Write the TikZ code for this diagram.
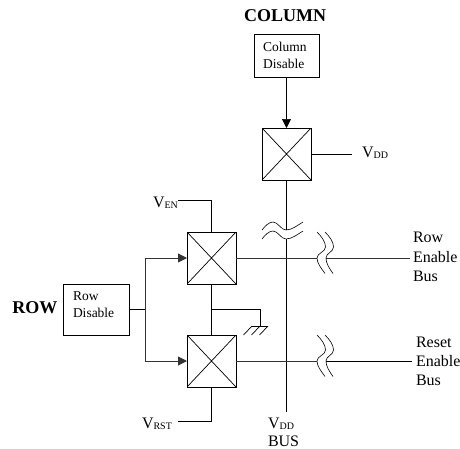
\documentclass[tikz,border=0pt]{standalone}
\usepackage{fontspec}
\setmainfont{Liberation Serif}
\usetikzlibrary{arrows.meta}
\newcommand{\vsub}[1]{V\raisebox{-1pt}{\fontsize{10}{10}\selectfont #1}}
\tikzset{
  wire/.style={line width=0.9pt,black!80},
  thin wire/.style={line width=0.7pt,black},
  arrowed/.style={-{Triangle[length=9pt,width=9pt]}},
  switchbox/.style={draw,line width=0.9pt,rectangle,inner sep=0pt,outer sep=0pt,minimum width=49pt,minimum height=52pt,
    path picture={\draw[line width=0.7pt] (path picture bounding box.north west)--(path picture bounding box.south east)
      (path picture bounding box.north east)--(path picture bounding box.south west);}},
  ctlbox/.style={draw,line width=0.8pt,rectangle,inner sep=0pt,outer sep=0pt},
  txt/.style={inner sep=0pt,outer sep=0pt,anchor=base west,font=\fontsize{16}{19.5}\selectfont},
  boxtxt/.style={inner sep=0pt,outer sep=0pt,anchor=base west,font=\fontsize{13.5}{17}\selectfont},
  head/.style={inner sep=0pt,outer sep=0pt,anchor=base,font=\fontsize{18}{20}\selectfont\bfseries},
  breakline/.style={line width=0.6pt,black},
}
\begin{document}
\begin{tikzpicture}[x=1pt,y=-1pt]
\useasboundingbox (0,0) rectangle (460,448);
% boxes
\node[ctlbox,minimum width=65pt,minimum height=43pt] (coldis) at (286.5,55.5) {};
\node[ctlbox,minimum width=66pt,minimum height=51pt] (rowdis) at (96,309.5) {};
\node[switchbox] (sTop) at (286.5,154) {};
\node[switchbox] (sEN) at (211.5,258) {};
\node[switchbox] (sRST) at (211.5,361) {};
% texts
\node[head] (tcol) at (285,21) {COLUMN};
\node[head] (trow) at (35,313) {ROW};
\node[boxtxt] (tcd1) at (263,51) {Column};
\node[boxtxt] (tcd2) at (263,68) {Disable};
\node[boxtxt] (trd1) at (73,300) {Row};
\node[boxtxt] (trd2) at (73,317) {Disable};
\node[txt] (vdd) at (362,157) {\vsub{DD}};
\node[txt] (ven) at (153,207) {\vsub{EN}};
\node[txt] (vrst) at (142,428) {\vsub{RST}};
\node[txt] (vddb) at (268,428) {\vsub{DD}};
\node[txt] (bus) at (268,446) {BUS};
\node[txt] (r1) at (413,242) {Row};
\node[txt] (r2) at (413,262) {Enable};
\node[txt] (r3) at (413,281) {Bus};
\node[txt] (s1) at (416,347) {Reset};
\node[txt] (s2) at (416,366) {Enable};
\node[txt] (s3) at (416,385) {Bus};
% coordinates
\coordinate (vddend) at (352,154);
\coordinate (venc) at (178,200.5);
\coordinate (vrstc) at (178,421);
\coordinate (jr) at (145.5,309.5);
\coordinate (gndj) at (211.5,309.5);
\coordinate (gndc) at (260.5,309.5);
\coordinate (gndb) at (260.5,326);
\coordinate (busa) at (286.5,230);
\coordinate (busb) at (286.5,239);
\coordinate (busend) at (286.5,412);
\coordinate (ra) at (317,258);
\coordinate (rb) at (326,258);
\coordinate (rend) at (410,258);
\coordinate (sa) at (317,361);
\coordinate (sb) at (326,361);
\coordinate (send) at (412,361);
% connectors
\draw[thin wire,arrowed] (coldis.south) -- (sTop.north);
\draw[thin wire] (sTop.east) -- (vddend);
\draw[thin wire] (sTop.south) -- (busa);
\draw[thin wire] (busb) -- (busend);
\draw[thin wire] (venc) -| (sEN.north);
\draw[thin wire] (vrstc) -| (sRST.south);
\draw[thin wire] (sEN.south) -- (sRST.north);
\draw[thin wire] (rowdis.east) -- (jr);
\draw[wire,arrowed] (jr) |- (sEN.west);
\draw[wire,arrowed] (jr) |- (sRST.west);
\draw[wire] (sEN.east) -- (ra);
\draw[wire] (rb) -- (rend);
\draw[wire] (sRST.east) -- (sa);
\draw[thin wire] (sb) -- (send);
\draw[thin wire] (gndj) -- (gndc) -- (gndb);
% ground
\draw[thin wire] (252,326) -- (268,326);
\draw[thin wire] (252,326) -- (243.5,335) (260,326) -- (251.5,335) (268,326) -- (259.5,335);
% break marks
\foreach \yc in {258,361}{
  \draw[breakline] (317,\yc-26) .. controls (322,\yc-21) and (325.5,\yc-16) .. (325.5,\yc-11) .. controls (325.5,\yc-6) and (317,\yc-5) .. (317,\yc) .. controls (317,\yc+5) and (321,\yc+10) .. (325,\yc+15.5);
  \draw[breakline] (325,\yc-26) .. controls (330,\yc-21) and (333.5,\yc-16) .. (333.5,\yc-11) .. controls (333.5,\yc-6) and (326,\yc-5) .. (326,\yc) .. controls (326,\yc+5) and (329,\yc+10) .. (333,\yc+15.5);
}
\draw[breakline] (262,230) .. controls (265,226) and (269,222) .. (273,222) .. controls (278,222) and (281,230) .. (286,230) .. controls (292,230) and (298,225) .. (303,222);
\draw[breakline] (262,239) .. controls (265,235) and (269,231) .. (273,231) .. controls (278,231) and (281,239) .. (286,239) .. controls (292,239) and (298,234) .. (303,231);
\end{tikzpicture}
\end{document}
